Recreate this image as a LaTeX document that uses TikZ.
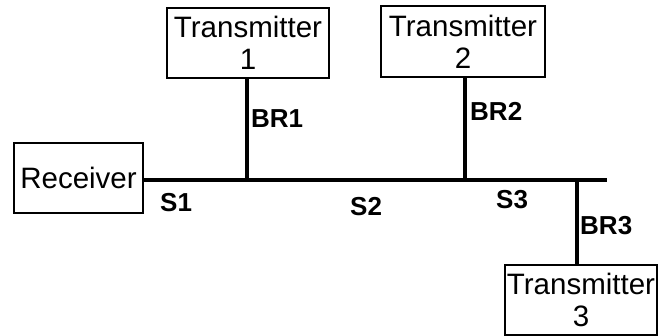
\documentclass[tikz,border=0pt]{standalone}
\usepackage{fontspec}
\setmainfont{Liberation Sans}
\begin{document}
\begin{tikzpicture}[x=1pt,y=-1pt,
  unit/.style={draw, line width=1.2pt, inner sep=0pt, align=center,
    font=\fontsize{29.5}{32}\selectfont},
  wire/.style={line width=4.5pt},
  lbl/.style={font=\fontsize{26}{30}\selectfont\bfseries, inner sep=0pt, anchor=west}]
\useasboundingbox (0,0) rectangle (660,336);

% end devices
\node[unit, minimum width=129pt, minimum height=70pt] (rx) at (78.5,178) {Receiver};
\node[unit, minimum width=162pt, minimum height=70pt] (t1) at (248,43) {Transmitter\\1};
\node[unit, minimum width=164pt, minimum height=71pt] (t2) at (463,41.5) {Transmitter\\2};
\node[unit, minimum width=152pt, minimum height=70pt] (t3) at (581,300) {Transmitter\\3};

% bus junctions and open end
\coordinate (j1) at (247,180);
\coordinate (j2) at (465,180);
\coordinate (j3) at (577,180);
\coordinate (busend) at (607,180);

% main bus and branches
\draw[wire] (rx.east |- j1) -- (busend);
\draw[wire] (j1) -- (j1 |- t1.south);
\draw[wire] (j2) -- (j2 |- t2.south);
\draw[wire] (j3) -- (j3 |- t3.north);

% segment labels
\node[lbl] (br1) at (251,119) {BR1};
\node[lbl] (br2) at (470,111) {BR2};
\node[lbl] (br3) at (580,226) {BR3};
\node[lbl] (s1) at (160,203) {S1};
\node[lbl] (s2) at (350,207) {S2};
\node[lbl] (s3) at (496,200) {S3};
\end{tikzpicture}
\end{document}
